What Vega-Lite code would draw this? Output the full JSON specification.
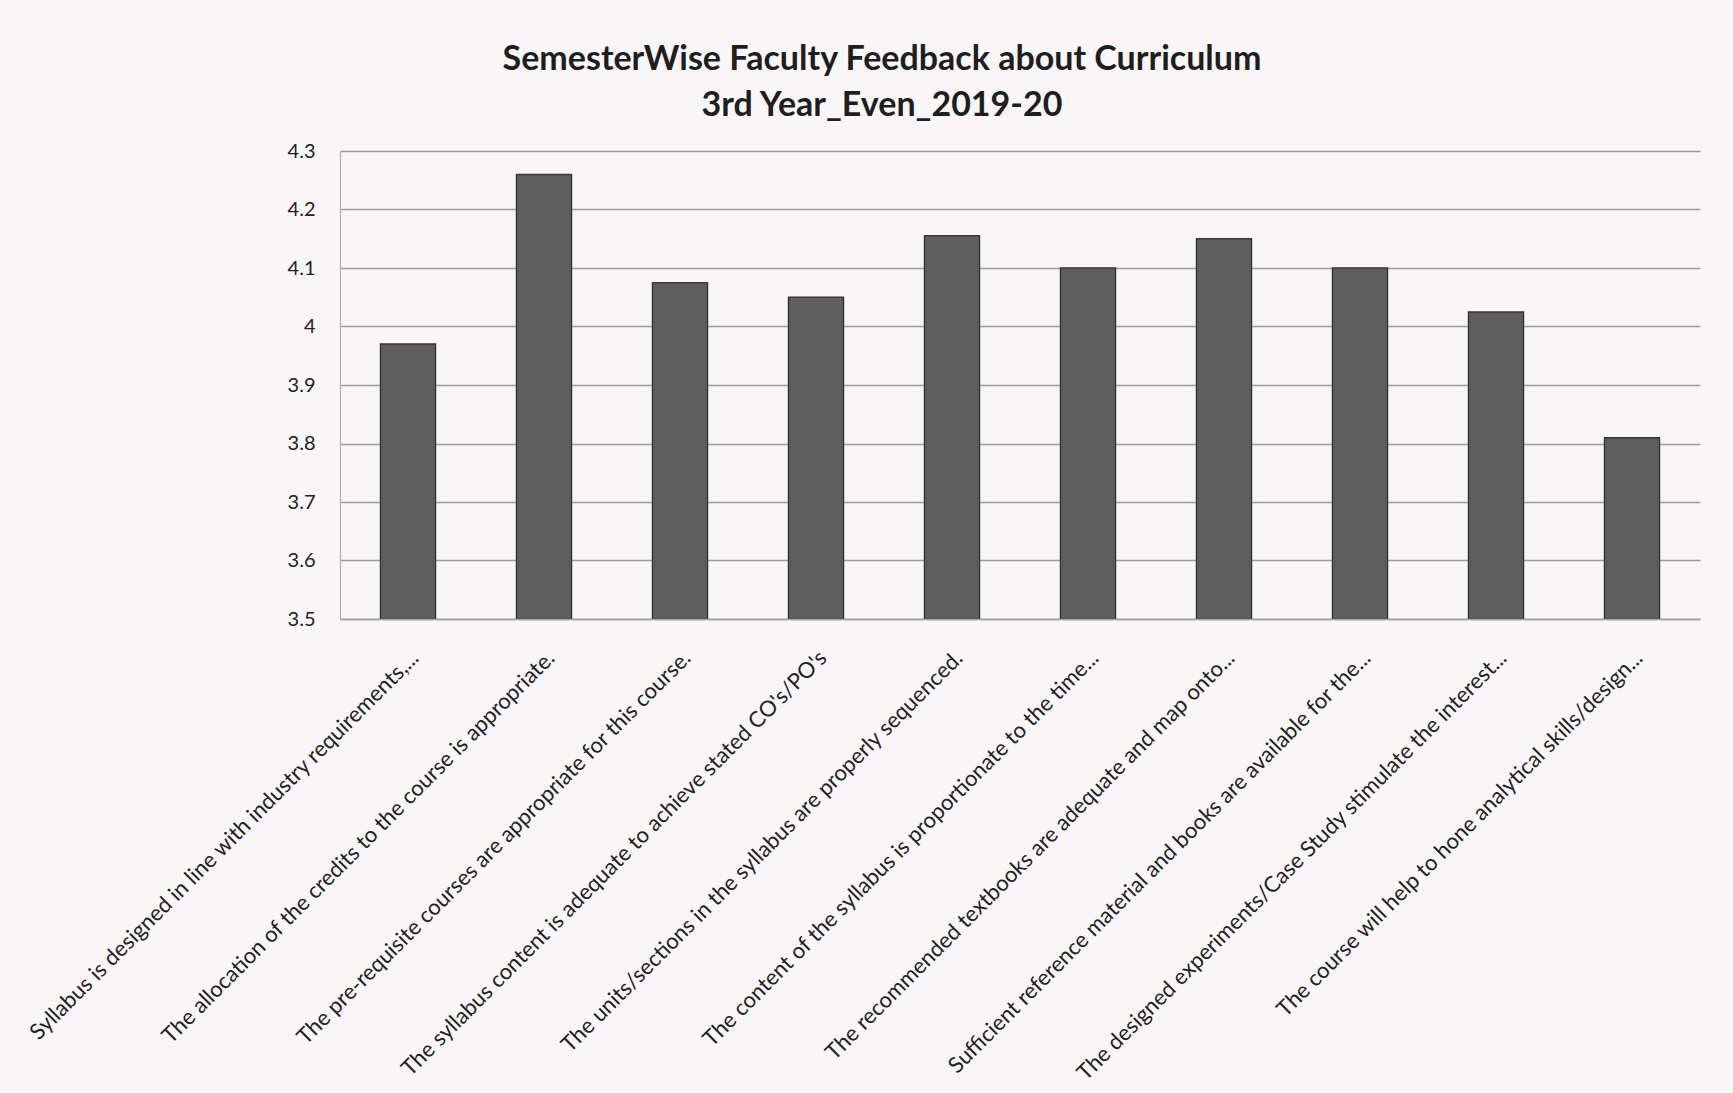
{
  "$schema": "https://vega.github.io/schema/vega-lite/v6.json",
  "autosize": {"type": "none"},
  "width": 1360,
  "height": 468,
  "padding": {"left": 340, "top": 151, "right": 33, "bottom": 474},
  "background": "#f8f6f7",
  "title": {
    "text": ["SemesterWise Faculty Feedback about Curriculum", "3rd Year_Even_2019-20"],
    "anchor": "middle",
    "dx": -138,
    "offset": 18,
    "font": "Lato",
    "fontSize": 34,
    "fontWeight": "bold",
    "lineHeight": 46,
    "color": "#1e1e1e"
  },
  "data": {
    "values": [
      {"q": "Syllabus is designed in line with industry requirements,...", "score": 3.97},
      {"q": "The allocation of the credits to the course is appropriate.", "score": 4.26},
      {"q": "The pre-requisite courses are appropriate for this course.", "score": 4.075},
      {"q": "The syllabus content is adequate to achieve stated CO's/PO's", "score": 4.05},
      {"q": "The units/sections in the syllabus are properly sequenced.", "score": 4.155},
      {"q": "The content of the syllabus is proportionate to the time...", "score": 4.1},
      {"q": "The recommended textbooks are adequate and map onto...", "score": 4.15},
      {"q": "Sufficient reference material and books are available for the...", "score": 4.1},
      {"q": "The designed experiments/Case Study stimulate the interest...", "score": 4.025},
      {"q": "The course will help to hone analytical skills/design...", "score": 3.81}
    ]
  },
  "mark": {"type": "bar", "size": 55, "fill": "#5e5e5e", "stroke": "#383838", "strokeWidth": 1.5, "clip": true},
  "encoding": {
    "x": {
      "field": "q",
      "type": "nominal",
      "sort": null,
      "title": null,
      "scale": {"paddingInner": 0.59, "paddingOuter": 0.295},
      "axis": {
        "labelAngle": -45,
        "labelFont": "Lato",
        "labelFontSize": 22,
        "labelColor": "#222222",
        "labelLimit": 0,
        "labelPadding": 28,
        "ticks": false,
        "domainColor": "#a0a0a0",
        "domainWidth": 1.5
      }
    },
    "y": {
      "field": "score",
      "type": "quantitative",
      "title": null,
      "scale": {"domain": [3.5, 4.3], "zero": false, "nice": false},
      "axis": {
        "values": [3.5, 3.6, 3.7, 3.8, 3.9, 4.0, 4.1, 4.2, 4.3],
        "format": ".2~f",
        "labelFont": "Lato",
        "labelFontSize": 20,
        "labelColor": "#222222",
        "labelPadding": 25,
        "ticks": false,
        "domainColor": "#b0b0b0",
        "domainWidth": 1.2,
        "gridColor": "#9c9c9c",
        "gridWidth": 1.5
      }
    }
  },
  "config": {"view": {"stroke": null}}
}
